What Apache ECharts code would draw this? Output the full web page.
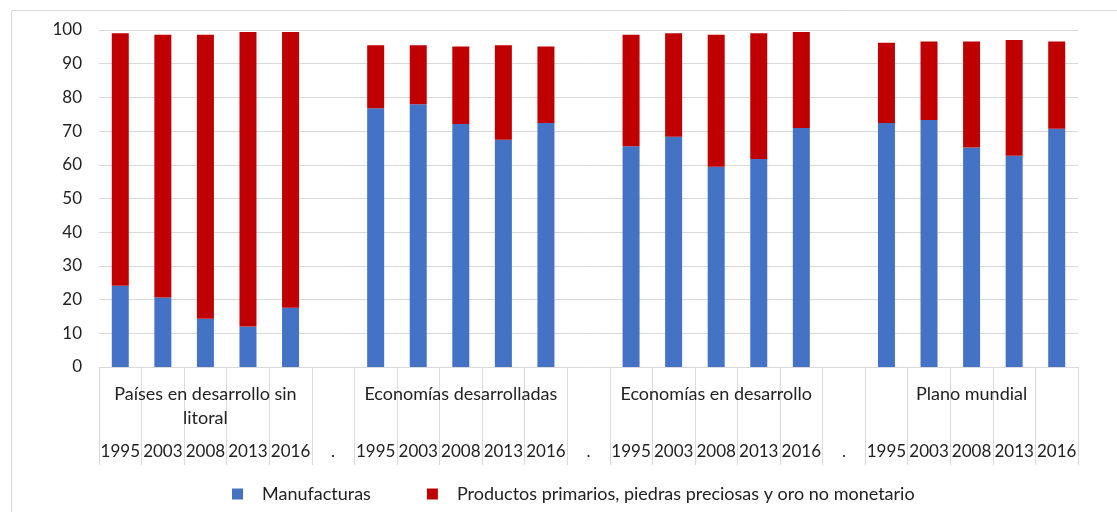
<!DOCTYPE html>
<html>
<head>
<meta charset="utf-8">
<script src="https://cdn.jsdelivr.net/npm/echarts@6/dist/echarts.min.js"></script>
<style>
  html, body { margin: 0; padding: 0; background: #fff; }
  #chart { width: 1117px; height: 512px; }
</style>
</head>
<body>
<div id="chart"></div>
<script>
// grupos y años (eje x de dos niveles)
var groups = ["Países en desarrollo sin\nlitoral", "Economías desarrolladas", "Economías en desarrollo", "Plano mundial"];
var years = ["1995", "2003", "2008", "2013", "2016"];

// valores por grupo (porcentaje)
var manufacturas = [
  [24.1, 20.6, 14.3, 12.0, 17.6],
  [76.8, 78.0, 72.1, 67.4, 72.4],
  [65.5, 68.3, 59.4, 61.7, 70.9],
  [72.4, 73.3, 65.1, 62.7, 70.7]
];
var primarios = [
  [74.9, 78.0, 84.3, 87.4, 81.8],
  [18.7, 17.5, 23.0, 28.1, 22.7],
  [33.1, 30.7, 39.2, 37.3, 28.5],
  [23.8, 23.3, 31.5, 34.3, 25.9]
];
var yTicks = [0, 10, 20, 30, 40, 50, 60, 70, 80, 90, 100];

// construir categorías con separador "."
var yearLabels = [], groupLabels = [], manData = [], priData = [];
groups.forEach(function (g, gi) {
  if (gi > 0) {
    yearLabels.push(".");
    groupLabels.push("");
    manData.push("-");
    priData.push("-");
  }
  years.forEach(function (y, yi) {
    yearLabels.push(y);
    groupLabels.push(yi === 2 ? g : "");
    manData.push(manufacturas[gi][yi]);
    priData.push(primarios[gi][yi]);
  });
});

var font = "Lato";
var txt = "#222";
var gridColor = "#d9d9d9";

var chart = echarts.init(document.getElementById("chart"));
chart.setOption({
  animation: false,
  textStyle: { fontFamily: font },
  graphic: [{
    type: "rect",
    shape: { x: 11.5, y: 10.5, width: 1130, height: 530 },
    style: { fill: "none", stroke: gridColor, lineWidth: 1 },
    silent: true
  }],
  legend: {
    left: 227,
    top: 480,
    itemWidth: 11,
    itemHeight: 11,
    itemGap: 56,
    icon: "rect",
    textStyle: { fontFamily: font, fontSize: 18, color: txt, padding: [0, 0, 0, 14] },
    data: ["Manufacturas", "Productos primarios, piedras preciosas y oro no monetario"]
  },
  grid: { left: 99, right: 39, top: 30, bottom: 145, containLabel: false },
  xAxis: [
    {
      type: "category",
      data: yearLabels,
      axisLine: { show: true, lineStyle: { color: gridColor } },
      axisTick: { show: true, interval: 0, length: 98, lineStyle: { color: gridColor } },
      axisLabel: { interval: 0, margin: 76, fontFamily: font, fontSize: 17, color: txt }
    },
    {
      type: "category",
      position: "bottom",
      data: groupLabels,
      axisLine: { show: false },
      axisTick: { show: false },
      axisLabel: { interval: 0, margin: 15, fontFamily: font, fontSize: 18, color: txt, lineHeight: 24, align: "center" }
    }
  ],
  yAxis: {
    type: "value",
    min: yTicks[0],
    max: yTicks[yTicks.length - 1],
    interval: 10,
    axisLine: { show: false },
    axisTick: { show: false },
    axisLabel: { margin: 17, fontFamily: font, fontSize: 17, color: txt },
    splitLine: { lineStyle: { color: gridColor } }
  },
  series: [
    {
      name: "Manufacturas",
      type: "bar",
      stack: "total",
      barWidth: 17,
      itemStyle: { color: "#4472c4" },
      data: manData
    },
    {
      name: "Productos primarios, piedras preciosas y oro no monetario",
      type: "bar",
      stack: "total",
      barWidth: 17,
      itemStyle: { color: "#c00000" },
      data: priData
    }
  ]
});
</script>
</body>
</html>
